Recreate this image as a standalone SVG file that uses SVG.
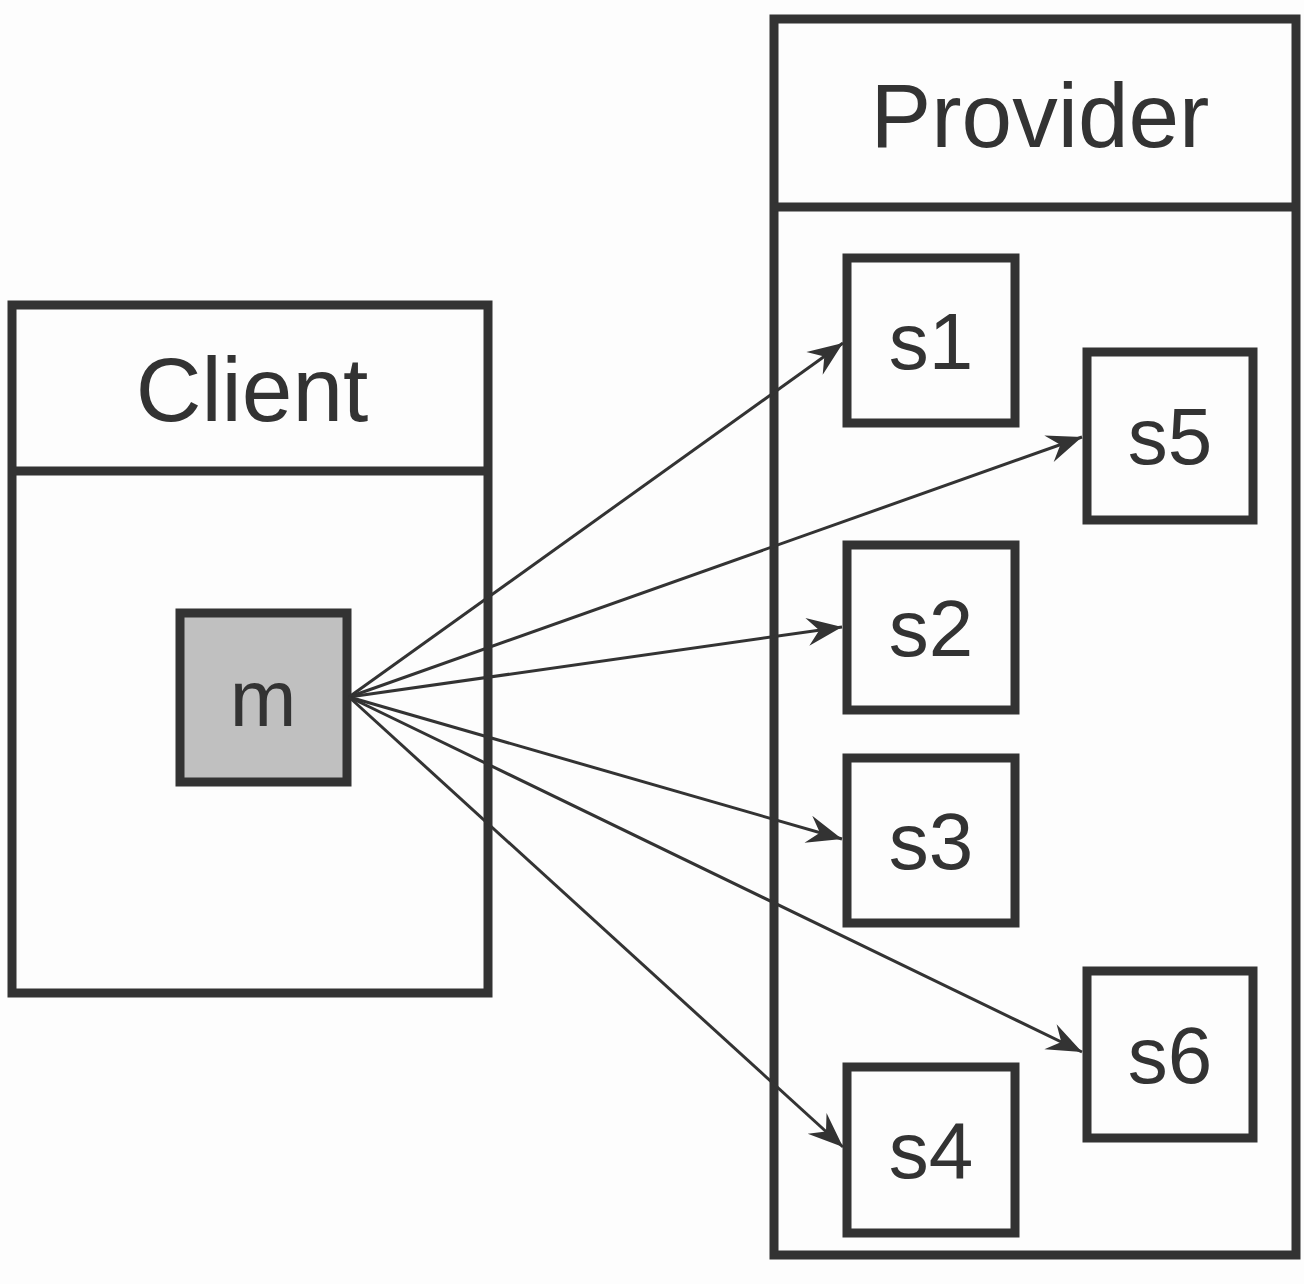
<svg xmlns="http://www.w3.org/2000/svg" width="1304" height="1284" viewBox="0 0 1304 1284">
  <style>
    .box { fill: #fdfdfd; stroke: #333333; stroke-width: 9; }
    .div { stroke: #333333; stroke-width: 9; fill: none; }
    .title { font-family: "Liberation Sans", Arial, sans-serif; font-size: 91px; fill: #333333; text-anchor: middle; }
    .lbl { font-family: "Liberation Sans", Arial, sans-serif; font-size: 80px; fill: #333333; text-anchor: middle; }
    .edge { stroke: #333333; stroke-width: 3; fill: none; marker-end: url(#arrow); }
  </style>
  <defs>
    <marker id="arrow" markerUnits="userSpaceOnUse" markerWidth="44" markerHeight="40" viewBox="-40 -20 42 40" refX="0" refY="0" orient="auto">
      <path d="M0,0 L-35,-14 L-23,0 L-35,14 Z" fill="#333333"/>
    </marker>
  </defs>
  <rect width="1304" height="1284" fill="#fdfdfd"/>

  <g id="client">
    <rect class="box" x="12" y="305" width="476" height="688"/>
    <line class="div" x1="12" y1="471" x2="488" y2="471"/>
    <text class="title" x="252" y="421">Client</text>
  </g>

  <g id="provider">
    <rect class="box" x="774" y="19" width="522" height="1236"/>
    <line class="div" x1="774" y1="207" x2="1296" y2="207"/>
    <text class="title" x="1040" y="147">Provider</text>
  </g>

  <g id="m">
    <rect class="box" x="180" y="613" width="167" height="169" style="fill:#c0c0c0"/>
    <text class="lbl" x="263" y="726">m</text>
  </g>

  <g id="s1">
    <rect class="box" x="847" y="258" width="168" height="165"/>
    <text class="lbl" x="931" y="369">s1</text>
  </g>
  <g id="s5">
    <rect class="box" x="1087" y="352" width="166" height="168"/>
    <text class="lbl" x="1170" y="464">s5</text>
  </g>
  <g id="s2">
    <rect class="box" x="847" y="545" width="168" height="165"/>
    <text class="lbl" x="931" y="656">s2</text>
  </g>
  <g id="s3">
    <rect class="box" x="847" y="758" width="168" height="165"/>
    <text class="lbl" x="931" y="869">s3</text>
  </g>
  <g id="s6">
    <rect class="box" x="1087" y="971" width="166" height="167"/>
    <text class="lbl" x="1170" y="1083">s6</text>
  </g>
  <g id="s4">
    <rect class="box" x="847" y="1067" width="168" height="166"/>
    <text class="lbl" x="931" y="1178">s4</text>
  </g>

  <g id="connectors">
    <line class="edge" x1="349" y1="697" x2="843" y2="343"/>
    <line class="edge" x1="349" y1="697" x2="1082" y2="437"/>
    <line class="edge" x1="349" y1="697" x2="842" y2="627"/>
    <line class="edge" x1="349" y1="697" x2="842" y2="839"/>
    <line class="edge" x1="349" y1="697" x2="1082" y2="1052"/>
    <line class="edge" x1="349" y1="697" x2="843" y2="1147"/>
  </g>
</svg>
